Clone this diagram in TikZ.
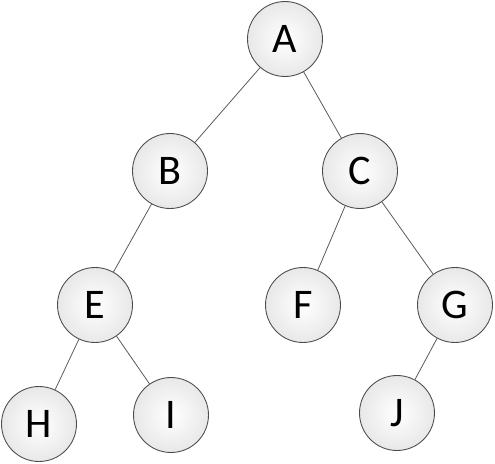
\documentclass[tikz,border=0pt]{standalone}
\usepackage{fontspec}
\setmainfont{Carlito}
\usetikzlibrary{positioning}

\begin{document}
\begin{tikzpicture}[
    x=0.02cm, y=-0.02cm,
    font=\fontsize{24}{28}\selectfont,
    nodo/.style={circle, draw=black!70, line width=0.5pt, minimum size=1.5cm,
                 inner sep=0pt, inner color=white, outer color=black!9},
    arista/.style={draw=black!65, line width=0.45pt}
  ]
  \useasboundingbox (0,0) rectangle (495,464);

  % --- Nodos ---
  \node[nodo] (A) at (285,39)  {A};
  \node[nodo] (B) at (170,171) {B};
  \node[nodo] (C) at (360,171) {C};
  \node[nodo] (E) at (95,305)  {E};
  \node[nodo] (F) at (303,305) {F};
  \node[nodo] (G) at (455,305) {G};
  \node[nodo] (H) at (39,424)  {H};
  \node[nodo] (I) at (171,415) {I};
  \node[nodo] (J) at (397,413) {J};

  % --- Aristas ---
  \draw[arista] (A) -- (B);
  \draw[arista] (A) -- (C);
  \draw[arista] (B) -- (E);
  \draw[arista] (C) -- (F);
  \draw[arista] (C) -- (G);
  \draw[arista] (E) -- (H);
  \draw[arista] (E) -- (I);
  \draw[arista] (G) -- (J);
\end{tikzpicture}
\end{document}
